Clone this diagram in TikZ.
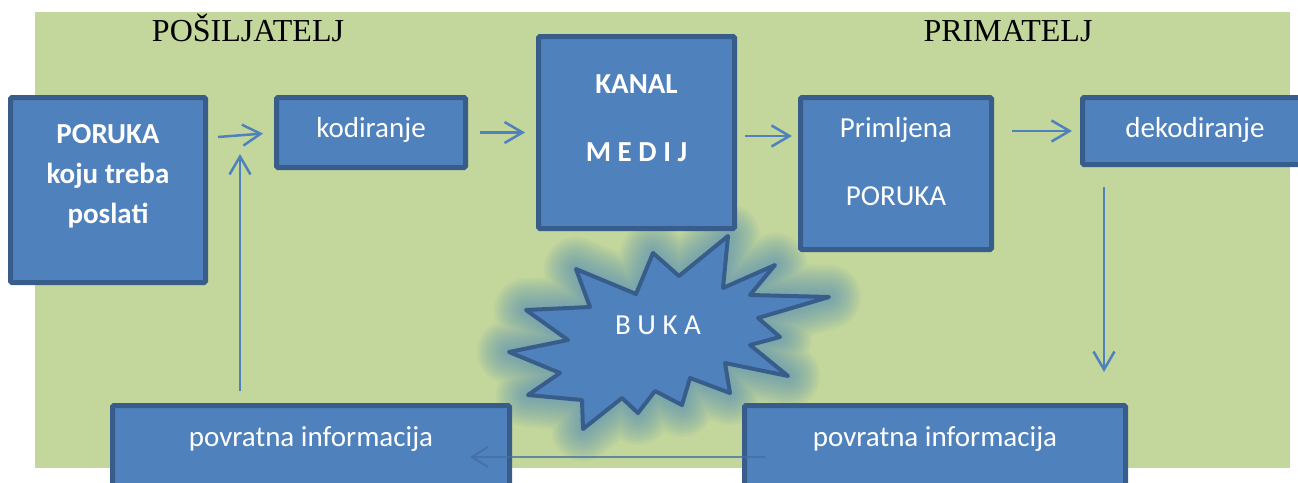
\documentclass[tikz,border=0pt]{standalone}
\usepackage{fontspec}
\setmainfont{Liberation Serif}
\newfontfamily\calfont{Carlito}
\usetikzlibrary{arrows.meta}
\definecolor{bggreen}{HTML}{C3D69B}
\definecolor{boxfill}{HTML}{4F81BD}
\definecolor{boxline}{HTML}{385D8A}
\definecolor{arrowc}{HTML}{4F81BD}
\definecolor{glowc}{HTML}{4A88C0}
\newcommand\bukastarpath{(728,236) -- (679,276) -- (653,253) -- (636,294) -- (576,269) -- (590,307) -- (526,310) -- (568,340) -- (509,352) -- (560,373) -- (528,395) -- (582,400) -- (583,429) -- (622,398) -- (638,413) -- (655,391) -- (682,405) -- (690,378) -- (730,393) -- (725,363) -- (788,376) -- (750,345) -- (780,337) -- (758,318) -- (829,297) -- (750,295) -- (775,265) -- (723,288) -- cycle}
\begin{document}
\begin{tikzpicture}[x=1pt,y=-1pt,
  txt/.style={font=\calfont\fontsize{29}{40}\selectfont, text=white},
  hdr/.style={font=\fontsize{32}{38}\selectfont, text=black, anchor=base, inner sep=0pt},
  box/.style={draw=boxline, fill=boxfill, line width=5pt, rounded corners=1.5pt,
    inner sep=0pt, outer sep=0pt, anchor=north west, txt},
  arr/.style={draw=arrowc, line width=2.5pt, -{Straight Barb[length=18pt,width=21pt]}},
  fbarr/.style={draw=arrowc!85!black, line width=2pt, opacity=0.75, -{Straight Barb[length=16pt,width=20pt]}}]
\useasboundingbox (0,0) rectangle (1298,482);
\clip (0,0) rectangle (1298,482);
\fill[bggreen] (35,12) rectangle (1290,468);

\node[hdr] (posh) at (248,41) {POŠILJATELJ};
\node[hdr] (prima) at (1008,41) {PRIMATELJ};

% soft glow around the noise star
\foreach \w in {64,60,...,8} {
  \draw[glowc, line width=\w pt, line join=round, opacity=0.05] \bukastarpath;
}

\node[box, minimum width=195pt, text height=45.5pt, text depth=139.5pt] (poruka) at (10.5,97.5)
  {\bfseries\begin{tabular}[t]{@{}c@{}}PORUKA\\koju treba\\poslati\end{tabular}};
\node[box, minimum width=189pt, text height=39.5pt, text depth=30.5pt] (kod) at (276.5,97.5) {kodiranje};
\node[box, minimum width=196pt, text height=56.5pt, text depth=135.5pt] (kanal) at (538.5,36.5)
  {\bfseries\fontsize{29}{68}\selectfont\begin{tabular}[t]{@{}c@{}}KANAL\\M E D I J\end{tabular}};
\node[box, minimum width=191pt, text height=39.5pt, text depth=112.5pt] (prim) at (800.5,97.5)
  {\fontsize{29}{68}\selectfont\begin{tabular}[t]{@{}c@{}}Primljena\\PORUKA\end{tabular}};
\node[box, minimum width=225pt, text height=39.5pt, text depth=27.5pt] (dek) at (1082.5,97.5) {dekodiranje};
\node[box, minimum width=397pt, text height=40.5pt, text depth=91.5pt] (fbL) at (112.5,405.5) {povratna informacija};
\node[box, minimum width=381pt, text height=40.5pt, text depth=91.5pt] (fbR) at (744.5,405.5) {povratna informacija};

% noise star
\draw[fill=boxfill, draw=boxline, line width=4pt, line join=round] \bukastarpath;
\node[txt, anchor=base, inner sep=0pt] (buka) at (658,334) {B U K A};

% connectors
\coordinate (a1s) at (218,137);
\draw[arr, shorten >=13.5pt] (a1s) -- (kod.west);
\draw[arr, shorten <=14.5pt, shorten >=13.5pt] (kod.east) -- (kanal.west |- kod.east);
\draw[arr, shorten <=10.5pt, shorten >=8.5pt] ([yshift=-3.5pt]kanal.east) -- ([yshift=-3.5pt]kanal.east -| prim.west);
\draw[arr, shorten <=20.5pt, shorten >=10.5pt] (dek.west -| prim.east) -- (dek.west);
\coordinate (downs) at (1104,187);
\coordinate (downe) at (1104,372);
\draw[arr] (downs) -- (downe);
\coordinate (ups) at (240,391);
\coordinate (upe) at (240,154);
\draw[arr] (ups) -- (upe);
\coordinate (fbs) at (765,457);
\coordinate (fbe) at (470,457);
\draw[fbarr] (fbs) -- (fbe);
\end{tikzpicture}
\end{document}
